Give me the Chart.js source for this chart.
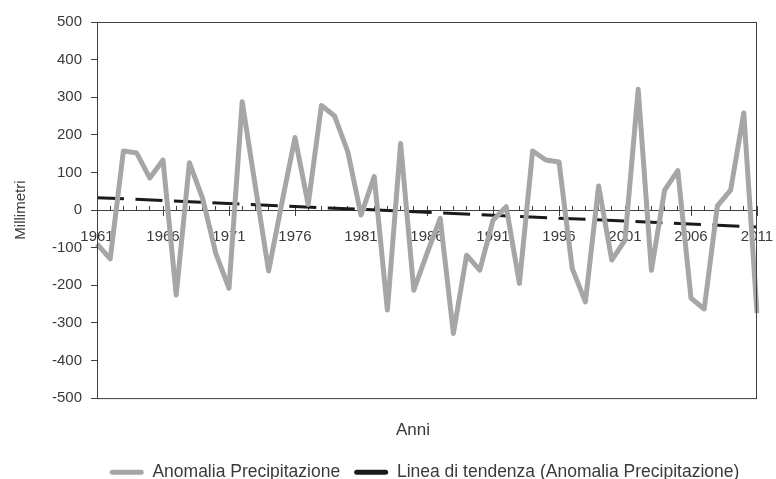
<!DOCTYPE html>
<html lang="it">
<head>
<meta charset="UTF-8" />
<title>Anomalia Precipitazione</title>
<script src="https://cdn.jsdelivr.net/npm/chart.js"></script>
<style>
  body { margin: 0; background: #ffffff; }
  .wrap { width: 776px; height: 479px; }
</style>
</head>
<body>
<div class="wrap"><canvas id="rainChart" width="776" height="479"></canvas></div>
<script>
const years = [1961, 1962, 1963, 1964, 1965, 1966, 1967, 1968, 1969, 1970,
  1971, 1972, 1973, 1974, 1975, 1976, 1977, 1978, 1979, 1980,
  1981, 1982, 1983, 1984, 1985, 1986, 1987, 1988, 1989, 1990,
  1991, 1992, 1993, 1994, 1995, 1996, 1997, 1998, 1999, 2000,
  2001, 2002, 2003, 2004, 2005, 2006, 2007, 2008, 2009, 2010, 2011];

// anomalia annua (mm)
const anomalia = [-90, -130, 157, 152, 85, 133, -226, 126, 31, -115,
  -208, 288, 62, -162, 18, 193, 15, 278, 250, 155,
  -13, 89, -266, 177, -213, -115, -22, -328, -120, -160,
  -27, 9, -195, 157, 133, 128, -155, -244, 64, -133,
  -80, 321, -160, 53, 105, -234, -263, 11, 53, 258, -274];

// linea di tendenza: solo i due estremi
const tendenzaInizio = 33;
const tendenzaFine = -45;
const tendenza = years.map((y, i) =>
  i === 0 ? tendenzaInizio : (i === years.length - 1 ? tendenzaFine : null));

const yTicks = { min: -500, max: 500, step: 100 };

const FONT = "'Liberation Sans', Arial, sans-serif";
const TEXT = '#3a3a3a';
const AXIS = '#404040';

// cornice attorno all'area del grafico + piccoli spostamenti di legenda e titolo
const plotBox = {
  id: 'plotBox',
  afterLayout(chart) {
    const lg = chart.legend;
    lg.left += 46; lg.right += 46;
    lg.top += 12; lg.bottom += 12;
    const xb = chart.scales.xb;
    xb.left -= 14; xb.right -= 14;
    xb.top += 3; xb.bottom += 3;
  },
  afterDraw(chart) {
    const a = chart.chartArea;
    const ctx = chart.ctx;
    ctx.save();
    ctx.strokeStyle = AXIS;
    ctx.lineWidth = 1;
    ctx.strokeRect(a.left + 0.5, a.top + 0.5, a.right - a.left - 1, a.bottom - a.top);
    ctx.restore();
  }
};

const noSidePad = scale => { scale.paddingLeft = 0; scale.paddingRight = 0; };

new Chart(document.getElementById('rainChart'), {
  type: 'line',
  data: {
    labels: years,
    datasets: [
      {
        label: 'Anomalia Precipitazione',
        data: anomalia,
        borderColor: '#a6a6a6',
        backgroundColor: '#a6a6a6',
        borderWidth: 5,
        pointRadius: 0,
        tension: 0,
        borderJoinStyle: 'round'
      },
      {
        label: 'Linea di tendenza (Anomalia Precipitazione)',
        data: tendenza,
        borderColor: '#1a1a1a',
        backgroundColor: '#1a1a1a',
        borderWidth: 3,
        borderDash: [27, 11.5],
        pointRadius: 0,
        spanGaps: true
      }
    ]
  },
  options: {
    responsive: false,
    animation: false,
    devicePixelRatio: 1,
    layout: { padding: { top: 22, right: 19, left: 0, bottom: 0 } },
    plugins: {
      tooltip: { enabled: false },
      legend: {
        position: 'bottom',
        labels: {
          boxWidth: 34,
          boxHeight: 5,
          padding: 14,
          color: TEXT,
          font: { family: FONT, size: 17.5 },
          generateLabels(chart) {
            const items = Chart.defaults.plugins.legend.labels.generateLabels(chart);
            items.forEach(it => {
              it.lineDash = [];
              it.lineWidth = 0;
              it.fillStyle = it.strokeStyle;
              it.borderRadius = 2.5;
            });
            return items;
          }
        }
      }
    },
    scales: {
      y: {
        min: yTicks.min,
        max: yTicks.max,
        ticks: { stepSize: yTicks.step, color: TEXT, padding: 9, font: { family: FONT, size: 15 } },
        grid: { drawOnChartArea: false, tickLength: 6, color: AXIS },
        border: { color: AXIS },
        title: { display: true, text: 'Millimetri', color: TEXT, padding: { top: 12, bottom: 0 },
                 font: { family: FONT, size: 15 } },
        afterFit(scale) { scale.width = 97; }
      },
      x: {
        type: 'category',
        axis: 'x',
        position: { y: 0 },
        grid: { drawOnChartArea: false, tickLength: -5, color: AXIS },
        border: { color: AXIS },
        ticks: { display: false },
        afterFit: noSidePad
      },
      xLab: {
        type: 'category',
        axis: 'x',
        position: { y: 0 },
        grid: {
          drawOnChartArea: false,
          tickLength: 6,
          tickColor: ctx => (ctx.index % 5 === 0 ? AXIS : 'rgba(0,0,0,0)')
        },
        border: { display: false },
        ticks: {
          autoSkip: false,
          maxRotation: 0,
          padding: 12,
          color: TEXT,
          font: { family: FONT, size: 15 },
          callback: (v, i) => (i % 5 === 0 ? years[i] : '')
        },
        afterFit: noSidePad
      },
      xb: {
        type: 'category',
        axis: 'x',
        position: 'bottom',
        grid: { display: false },
        border: { display: false },
        ticks: { display: false },
        title: { display: true, text: 'Anni', color: TEXT, padding: { top: 11, bottom: 0 },
                 font: { family: FONT, size: 17 } },
        afterFit: noSidePad
      }
    }
  },
  plugins: [plotBox]
});
</script>
</body>
</html>
